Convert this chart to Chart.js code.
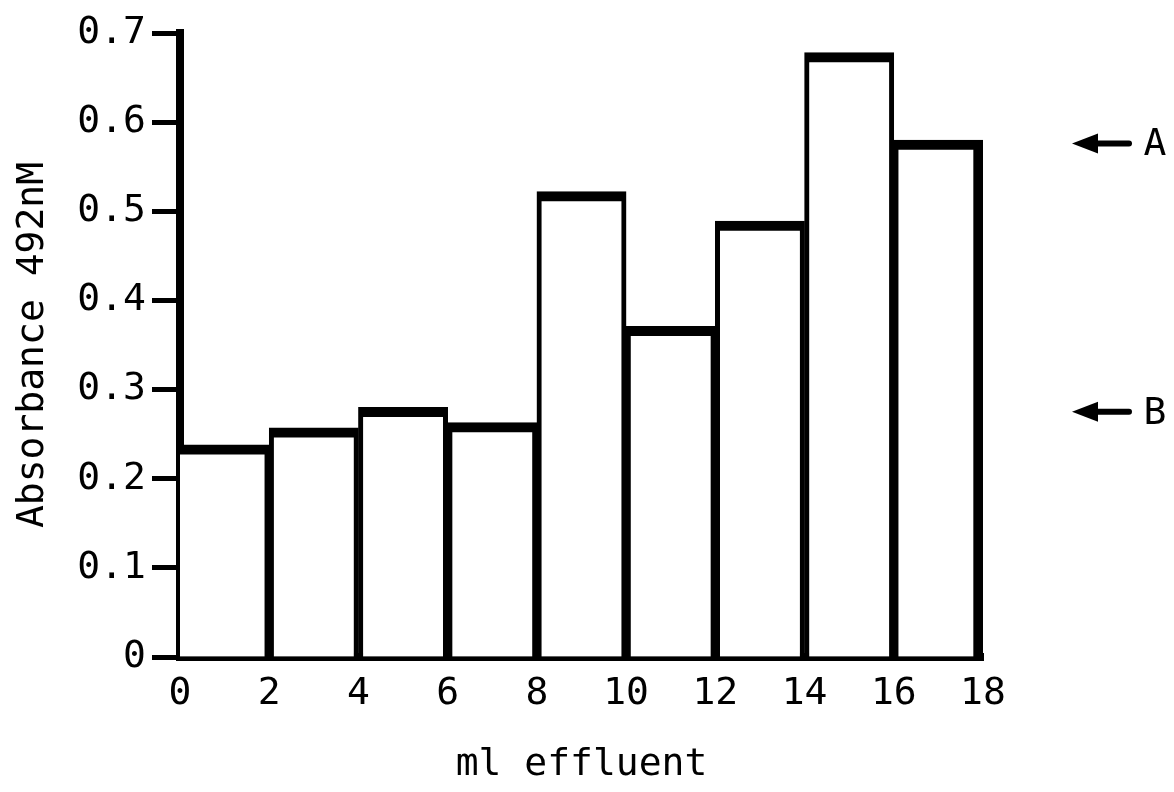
<!DOCTYPE html>
<html>
<head>
<meta charset="utf-8">
<script src="https://cdn.jsdelivr.net/npm/chart.js@4.4.1/dist/chart.umd.min.js"></script>
<style>
  html, body { margin: 0; padding: 0; background: #fff; }
  #wrap { width: 1174px; height: 792px; }
</style>
</head>
<body>
<div id="wrap"><canvas id="myChart" width="1174" height="792"></canvas></div>
<script>
// bins of effluent volume (ml), each 2 ml wide
const binStarts = [0, 2, 4, 6, 8, 10, 12, 14, 16];
const binWidth = 2;
const absorbance = [0.238, 0.257, 0.280, 0.263, 0.522, 0.371, 0.489, 0.678, 0.580];

// reference markers on the right
const markerLabels = ['A', 'B'];
const markerValues = [0.576, 0.275];

const FONT = '"DejaVu Sans Mono", "Liberation Mono", monospace';
const lastIndex = absorbance.length - 1;

const barData = binStarts.map((s, i) => ({ x: s + binWidth / 2, y: absorbance[i] }));

// arrows with letters, drawn right of the plot
const markerPlugin = {
    id: 'markers',
    afterDraw(chart) {
        const ctx = chart.ctx;
        const yScale = chart.scales.y;
        const right = chart.chartArea.right;
        ctx.save();
        ctx.fillStyle = '#000';
        ctx.strokeStyle = '#000';
        markerValues.forEach((v, i) => {
            const y = yScale.getPixelForValue(v);
            const tip = right + 89;
            const tail = right + 146;
            ctx.lineWidth = 6;
            ctx.lineCap = 'round';
            ctx.beginPath();
            ctx.moveTo(tip + 18, y);
            ctx.lineTo(tail, y);
            ctx.stroke();
            ctx.beginPath();
            ctx.moveTo(tip, y);
            ctx.lineTo(tip + 26, y - 10);
            ctx.lineTo(tip + 26, y + 10);
            ctx.closePath();
            ctx.fill();
            ctx.font = '38px ' + FONT;
            ctx.textAlign = 'center';
            ctx.textBaseline = 'middle';
            ctx.fillText(markerLabels[i], right + 172, y + 2);
        });
        ctx.restore();
    }
};

const ctx = document.getElementById('myChart').getContext('2d');
new Chart(ctx, {
    type: 'bar',
    data: {
        datasets: [{
            data: barData,
            backgroundColor: '#ffffff',
            borderColor: '#000000',
            borderWidth: (c) => ({
                top: 10,
                left: c.dataIndex === 0 ? 0 : 5,
                right: c.dataIndex === lastIndex ? 10 : 5,
                bottom: 0
            }),
            borderSkipped: false,
            barPercentage: 1,
            categoryPercentage: 1
        }]
    },
    options: {
        responsive: false,
        animation: false,
        layout: {
            padding: { top: 33, right: 191, left: 0, bottom: 0 }
        },
        plugins: {
            legend: { display: false },
            tooltip: { enabled: false }
        },
        scales: {
            x: {
                type: 'linear',
                min: 0,
                max: 18,
                offset: false,
                z: 1,
                grid: { display: false },
                border: { display: true, color: '#000', width: 8 },
                ticks: {
                    stepSize: 2,
                    color: '#000',
                    padding: 6,
                    font: { family: FONT, size: 38 }
                },
                title: {
                    display: true,
                    text: 'ml effluent',
                    color: '#000',
                    font: { family: FONT, size: 38 },
                    padding: { top: 0, bottom: 4 }
                },
                afterFit: (scale) => { scale.height = 135; }
            },
            y: {
                min: 0,
                max: 0.7,
                z: 1,
                grid: {
                    drawOnChartArea: false,
                    drawTicks: true,
                    tickLength: 28,
                    tickWidth: 5,
                    tickColor: '#000'
                },
                border: { display: true, color: '#000', width: 8 },
                ticks: {
                    stepSize: 0.1,
                    color: '#000',
                    padding: 6,
                    font: { family: FONT, size: 38 },
                    callback: (v) => (v === 0 ? '0' : v.toFixed(1))
                },
                title: {
                    display: true,
                    text: 'Absorbance 492nM',
                    color: '#000',
                    font: { family: FONT, size: 38 },
                    padding: { top: 10, bottom: 0 }
                },
                afterFit: (scale) => { scale.width = 180; }
            }
        }
    },
    plugins: [markerPlugin]
});
</script>
</body>
</html>
